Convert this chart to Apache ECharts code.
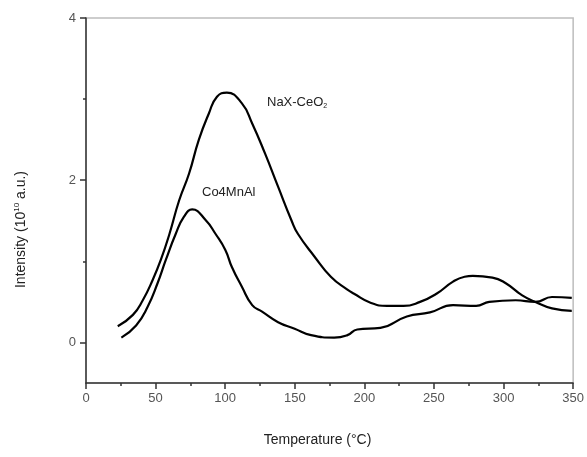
<!DOCTYPE html>
<html><head><meta charset="utf-8">
<script src="https://cdn.jsdelivr.net/npm/echarts@6/dist/echarts.min.js"></script>
<style>html,body{margin:0;padding:0;background:#fff}#c{width:587px;height:457px}</style>
</head><body><div id="c"></div>
<script>
// NaX-CeO2 curve: temperature (°C) and intensity (1e10 a.u.)
const naxT = [22.8, 33.7, 40.8, 47.9, 53.8, 60, 66.9, 74, 81.1, 88.2, 94.1, 101.2, 111.9, 119.4, 128.6, 138, 147.5, 152.2, 164.1, 175.9, 187.8, 192.6, 204.4, 216.3, 228.1, 240, 251.8, 263.7, 272, 277.9, 292, 301.6, 313.4, 322.9, 334.8, 349];
const naxI = [0.20, 0.34, 0.52, 0.77, 1.02, 1.34, 1.75, 2.08, 2.50, 2.82, 3.03, 3.08, 2.95, 2.70, 2.33, 1.92, 1.51, 1.34, 1.06, 0.81, 0.65, 0.60, 0.49, 0.45, 0.45, 0.50, 0.60, 0.75, 0.81, 0.82, 0.80, 0.73, 0.58, 0.50, 0.42, 0.39];
// Co4MnAl curve
const coT = [25.4, 36, 44.3, 51.4, 57.4, 64.5, 70.4, 76.3, 85.9, 93, 100.1, 104.8, 111.9, 119.4, 126.5, 138, 149.9, 161.7, 178.3, 187.8, 194.9, 211.5, 230.5, 247.1, 263.7, 280.3, 289.7, 308.7, 322.9, 334.8, 349];
const coI = [0.06, 0.21, 0.44, 0.73, 1.02, 1.34, 1.55, 1.64, 1.51, 1.34, 1.14, 0.93, 0.69, 0.46, 0.38, 0.25, 0.17, 0.09, 0.06, 0.09, 0.16, 0.18, 0.32, 0.37, 0.46, 0.45, 0.50, 0.52, 0.50, 0.56, 0.55];
const xMajor = [0, 50, 100, 150, 200, 250, 300, 350];
const yLabels = [0, 2, 4];
const yMinor = [1, 3];

const zip = (a, b) => a.map((v, i) => [v, b[i]]);
const font = 'Liberation Sans, Arial, sans-serif';
const chart = echarts.init(document.getElementById('c'));
chart.setOption({
  animation: false,
  backgroundColor: '#fff',
  grid: { left: 86, right: 9, top: 18, bottom: 74, show: true, borderColor: '#bdbdbd', borderWidth: 1.5 },
  xAxis: {
    type: 'value', min: 0, max: 350, interval: 50,
    axisLine: { onZero: false, lineStyle: { color: '#333', width: 1.5 } },
    axisTick: { inside: false, length: 6, lineStyle: { color: '#333', width: 1.5 } },
    minorTick: { show: true, splitNumber: 2, length: 3, lineStyle: { color: '#333', width: 1.5 } },
    splitLine: { show: false },
    axisLabel: { color: '#555', fontSize: 13, fontFamily: font, margin: 9 },
    name: 'Temperature (°C)', nameLocation: 'middle', nameGap: 50,
    nameTextStyle: { color: '#222', fontSize: 14, fontFamily: font, padding: [0, 24, 0, 0] }
  },
  yAxis: [{
    type: 'value', min: -0.5, max: 4,
    axisLine: { show: true, onZero: false, lineStyle: { color: '#333', width: 1.5 } },
    axisTick: { show: true, length: 6, customValues: yLabels.concat([]), lineStyle: { color: '#333', width: 1.5 } },
    splitLine: { show: false },
    axisLabel: { color: '#555', fontSize: 13, fontFamily: font, margin: 10, customValues: yLabels },
    name: 'Intensity (10{sup|10} a.u.)', nameLocation: 'middle', nameGap: 57, nameRotate: 90,
    nameTextStyle: {
      color: '#222', fontSize: 14, fontFamily: font, padding: [0, 58, 0, 0],
      rich: { sup: { fontSize: 8, fontFamily: font, color: '#222', padding: [0, 0, 8, 0] } }
    }
  }, {
    type: 'value', min: -0.5, max: 4, position: 'left',
    axisLine: { show: false },
    axisTick: { show: true, length: 3, customValues: yMinor, lineStyle: { color: '#333', width: 1.5 } },
    axisLabel: { show: false, customValues: [] },
    splitLine: { show: false }
  }],
  graphic: [
    { type: 'text', left: 267, top: 96, style: { text: 'NaX-CeO{sub|2}', fill: '#222', font: '13px ' + font,
      rich: { sub: { fontSize: 7, fill: '#222', padding: [7, 0, 0, 0] } } } },
    { type: 'text', left: 202, top: 186, style: { text: 'Co4MnAl', fill: '#222', font: '13px ' + font } }
  ],
  series: [
    { name: 'NaX-CeO2', type: 'line', data: zip(naxT, naxI), smooth: 0.5, showSymbol: false,
      lineStyle: { color: '#000', width: 2.2 } },
    { name: 'Co4MnAl', type: 'line', data: zip(coT, coI), smooth: 0.5, showSymbol: false,
      lineStyle: { color: '#000', width: 2.2 } }
  ]
});
</script></body></html>
